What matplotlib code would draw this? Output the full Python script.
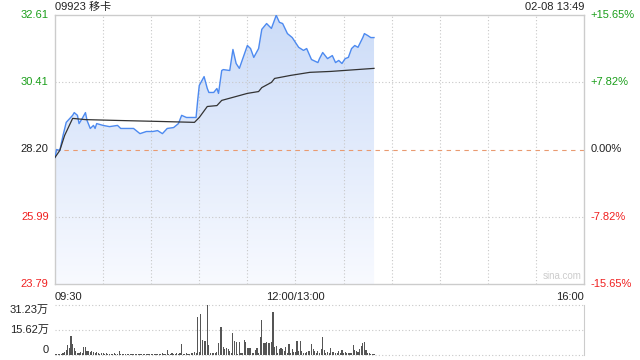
import numpy as np
import matplotlib
matplotlib.use("Agg")
import matplotlib.pyplot as plt
from matplotlib.transforms import blended_transform_factory

plt.rcParams['font.family'] = ['Liberation Sans', 'Noto Sans CJK SC']

# ---- data (minutes since 09:30, lunch break removed) ----
title = "09923 移卡"
stamp = "02-08 13:49"
prev_close = 28.20
price_ticks = [23.79, 25.99, 28.20, 30.41, 32.61]
pct_ticks = ["-15.65%", "-7.82%", "0.00%", "+7.82%", "+15.65%"]
vol_ticks = [0, 15.62, 31.23]
vol_labels = ["0", "15.62万", "31.23万"]

price_min = [0, 1, 3, 5, 7, 11, 12, 14, 15, 17, 19, 20, 22, 24, 25, 26, 30, 34, 39, 41,
             49, 53, 57, 61, 64, 67, 70, 74, 77, 79, 82, 88, 89, 90, 93, 95, 96, 99, 101, 102,
             104, 105, 109, 111, 113, 115, 120, 122, 124, 127, 129, 132, 135, 138, 140, 142, 145, 148, 152, 155,
             157, 160, 164, 165, 167, 170, 173, 175, 177, 179, 181, 183, 185, 187, 189, 192, 193, 195, 197, 199]
price = [27.94, 28.20, 28.17, 28.66, 29.09, 29.32, 29.41, 29.32, 29.05, 29.22, 29.41, 29.15, 28.89, 28.99, 28.89, 29.05, 28.99, 28.95, 28.99, 28.89,
         28.89, 28.72, 28.79, 28.79, 28.82, 28.72, 28.89, 28.92, 29.05, 29.32, 29.25, 29.25, 29.81, 30.30, 30.59, 30.20, 30.07, 30.07, 30.20, 30.04,
         30.79, 30.82, 30.79, 31.48, 31.02, 30.86, 31.61, 31.51, 31.22, 31.51, 32.14, 32.33, 32.17, 32.60, 32.37, 32.33, 32.00, 31.87, 31.55, 31.45,
         31.51, 31.15, 31.05, 31.18, 31.38, 31.18, 31.28, 31.05, 31.12, 31.02, 31.18, 31.22, 31.51, 31.61, 31.55, 31.87, 32.00, 31.94, 31.87, 31.87]

avg_min = [0, 3, 6, 11, 19, 41, 65, 87, 90, 95, 101, 104, 111, 120, 127, 129, 135, 137, 147, 159, 172, 199]
avg_price = [27.94, 28.17, 28.66, 29.22, 29.18, 29.15, 29.12, 29.09, 29.25, 29.61, 29.64, 29.81, 29.91, 30.04,
             30.10, 30.23, 30.40, 30.53, 30.63, 30.73, 30.76, 30.86]

volume = [0.5, 0.6, 0.8, 0.6, 0.9, 1.0, 1.7, 3.1, 6.2, 4.2,
          11.9, 6.9, 4.2, 2.7, 1.5, 1.2, 1.7, 1.2, 4.8, 4.8,
          2.5, 2.7, 2.1, 2.7, 1.7, 1.2, 2.1, 1.2, 0.9, 1.5,
          1.0, 0.8, 1.2, 0.7, 0.9, 0.6, 0.8, 1.0, 0.7, 0.9,
          2.5, 0.8, 0.6, 0.9, 0.7, 0.5, 0.8, 0.6, 0.9, 0.7,
          0.6, 0.8, 0.5, 0.7, 0.9, 0.6, 0.8, 0.5, 0.7, 0.6,
          0.8, 0.6, 0.9, 0.5, 0.7, 0.6, 0.8, 1.2, 0.7, 0.9,
          3.1, 0.8, 0.6, 1.0, 0.7, 0.9, 1.2, 0.8, 1.0, 6.9,
          0.9, 0.7, 1.2, 0.8, 0.6, 1.0, 1.5, 2.1, 1.2, 24.0,
          2.1, 25.4, 9.4, 9.0, 8.8, 31.2, 6.2, 1.2, 1.2, 1.5,
          1.0, 2.1, 7.7, 17.3, 17.3, 5.2, 3.5, 4.2, 3.5, 2.5,
          1.0, 13.5, 8.8, 8.3, 0.9, 8.3, 1.5, 1.0, 9.4, 8.3,
          4.2, 4.2, 4.2, 1.5, 1.2, 3.1, 4.6, 1.2, 11.0, 21.9,
          7.3, 7.7, 8.3, 7.3, 7.7, 8.3, 27.1, 5.2, 5.6, 1.5,
          3.5, 4.2, 3.5, 2.7, 4.8, 1.2, 6.9, 1.5, 3.5, 1.9,
          2.1, 9.0, 2.7, 8.8, 2.5, 1.5, 1.5, 2.1, 2.7, 2.5,
          6.9, 3.5, 2.5, 1.5, 2.7, 1.5, 3.5, 11.5, 3.1, 1.5,
          2.1, 1.5, 4.6, 1.9, 2.1, 1.5, 1.2, 2.5, 1.0, 3.1,
          1.2, 2.1, 1.5, 1.0, 1.5, 1.2, 6.2, 3.1, 2.5, 2.1,
          3.7, 5.6, 7.3, 8.3, 3.1, 1.5, 1.0, 0.8, 0.6, 0.5]

green = '#1a9e1a'
red = '#f02020'
grid_c = '#c8c8c8'
text_c = '#222222'

fig = plt.figure(figsize=(6.4, 3.6), dpi=100)
ax = fig.add_axes([55 / 640, 1 - 284 / 360, 529 / 640, 269 / 360])
axv = fig.add_axes([55 / 640, 1 - 355 / 360, 529 / 640, 50 / 360])

ax.set_xlim(0, 330)
ax.set_ylim(price_ticks[0], price_ticks[-1])

# gradient fill under price line (darker at top)
grad = np.linspace(1, 0, 256).reshape(-1, 1)
cmap = matplotlib.colors.LinearSegmentedColormap.from_list('g', ['#f8faff', '#ccdcf8'])
poly = ax.fill_between(price_min, price, price_ticks[0], color='none', lw=0)
im = ax.imshow(grad, extent=[0, 199, price_ticks[0], price_ticks[-1]], aspect='auto',
               cmap=cmap, origin='upper', zorder=1)
im.set_clip_path(poly.get_paths()[0], transform=ax.transData)

ax.plot(price_min, price, color='#4d8af0', lw=1.0, zorder=3)
ax.plot(avg_min, avg_price, color='#333333', lw=0.9, zorder=3)

# grid
for t in range(30, 330, 30):
    ax.axvline(t, color=grid_c, lw=0.8, ls=(0, (1, 2)), zorder=2)
for p in [price_ticks[1], price_ticks[3]]:
    ax.axhline(p, color=grid_c, lw=0.8, ls=(0, (1, 2)), zorder=2)
ax.axhline(prev_close, color='#e99a70', lw=0.8, ls=(0, (4, 4)), zorder=2)

for s in ax.spines.values():
    s.set_color('#cccccc')
    s.set_linewidth(1)
ax.set_xticks([])
ax.set_yticks([])

# y labels
ycols = [red, red, text_c, green, green]
for p, lab, c in zip(price_ticks, pct_ticks, ycols):
    ax.text(-0.012, p, f"{p:.2f}", transform=blended_transform_factory(ax.transAxes, ax.transData),
            ha='right', va='center', fontsize=8, color=c)
    ax.text(1.012, p, lab, transform=blended_transform_factory(ax.transAxes, ax.transData),
            ha='left', va='center', fontsize=8, color=c)

# x labels
ax.text(0, -0.03, "09:30", transform=blended_transform_factory(ax.transData, ax.transAxes),
        ha='left', va='top', fontsize=8, color=text_c)
ax.text(150, -0.03, "12:00/13:00", transform=blended_transform_factory(ax.transData, ax.transAxes),
        ha='center', va='top', fontsize=8, color=text_c)
ax.text(330, -0.03, "16:00", transform=blended_transform_factory(ax.transData, ax.transAxes),
        ha='right', va='top', fontsize=8, color=text_c)

ax.text(0, 1.012, title, transform=ax.transAxes, ha='left', va='bottom', fontsize=8, color=text_c)
ax.text(1, 1.012, stamp, transform=ax.transAxes, ha='right', va='bottom', fontsize=8, color=text_c)
ax.text(0.995, 0.01, "sina.com", transform=ax.transAxes, ha='right', va='bottom', fontsize=7,
        color='#cccccc', zorder=4)

# volume panel
axv.set_xlim(0, 330)
axv.set_ylim(0, vol_ticks[-1])
axv.bar(np.arange(len(volume)), volume, width=0.7, color='#555555', lw=0, zorder=3)
for v in vol_ticks:
    axv.axhline(v, color=grid_c, lw=0.8, ls=(0, (1, 2)), zorder=2, clip_on=False)
for name, s in axv.spines.items():
    s.set_visible(name == 'right')
    s.set_color('#cccccc')
axv.set_xticks([])
axv.set_yticks([])
vas = ['bottom', 'center', 'top']
for v, lab, va in zip(vol_ticks, vol_labels, vas):
    axv.text(-0.012, v, lab, transform=blended_transform_factory(axv.transAxes, axv.transData),
             ha='right', va=va, fontsize=8, color=text_c)

fig.savefig("out.png", dpi=100)
